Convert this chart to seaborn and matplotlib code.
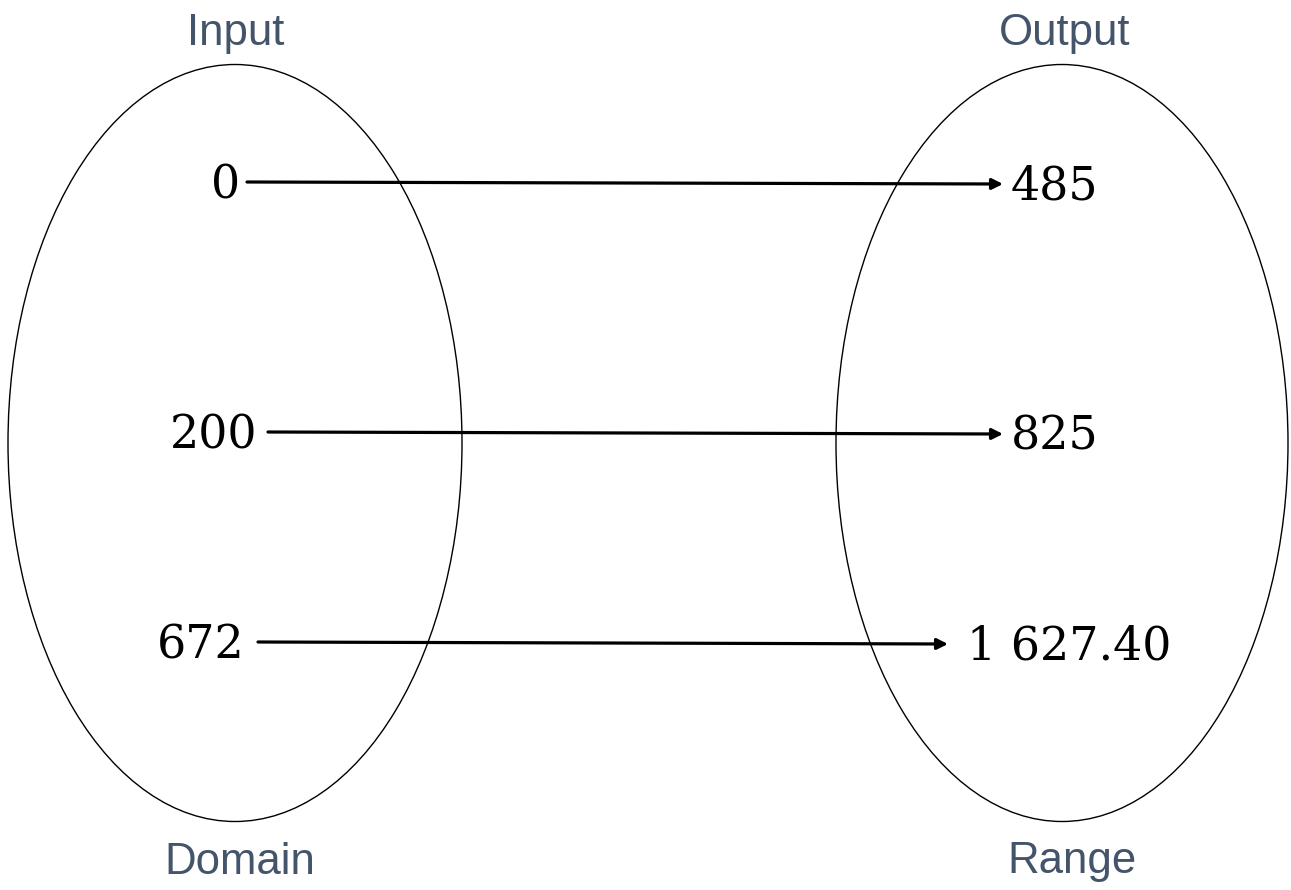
import matplotlib
matplotlib.use("Agg")
import matplotlib.pyplot as plt
import seaborn as sns
from matplotlib.patches import Ellipse

# mapping data
inputs = ["0", "200", "672"]
outputs = ["485", "825", "1 627.40"]
set_titles = ["Input", "Output"]
set_names = ["Domain", "Range"]

# layout (pixel coordinates of the 1291x890 canvas)
row_y = [183, 433, 643]
in_right = [240, 257, 245]
arrow_start = [247, 268, 258]
arrow_end = [1003, 1003, 948]
out_left = [1011, 1011, 967]

sns.set_style("white")
label_color = "#44546A"

fig = plt.figure(figsize=(12.91, 8.90), dpi=100)
ax = fig.add_axes([0, 0, 1, 1])
ax.set_xlim(0, 1291)
ax.set_ylim(890, 0)
ax.axis("off")

# the two sets
ax.add_patch(Ellipse((235, 443), 454, 757, fill=False, ec="black", lw=1.0))
ax.add_patch(Ellipse((1062, 443), 452, 757, fill=False, ec="black", lw=1.0))

for x, t in zip([236, 1065], set_titles):
    ax.text(x, 33, t, ha="center", va="center", fontsize=31.5,
            color=label_color, family="Liberation Sans")
for x, t in zip([240, 1072], set_names):
    ax.text(x, 862, t, ha="center", va="center", fontsize=31.5,
            color=label_color, family="Liberation Sans")

for i in range(len(inputs)):
    y = row_y[i]
    ax.text(in_right[i], y + 3, inputs[i], ha="right", va="center",
            fontsize=33, family="DejaVu Serif", color="black")
    ax.text(out_left[i], y + 4, outputs[i], ha="left", va="center",
            fontsize=33, family="DejaVu Serif", color="black")
    ax.annotate("", xy=(arrow_end[i], y + 1), xytext=(arrow_start[i], y - 1),
                arrowprops=dict(arrowstyle="-|>", lw=2.3, color="black",
                                mutation_scale=16, shrinkA=0, shrinkB=0))

fig.savefig("out.png", dpi=100, facecolor="white")
